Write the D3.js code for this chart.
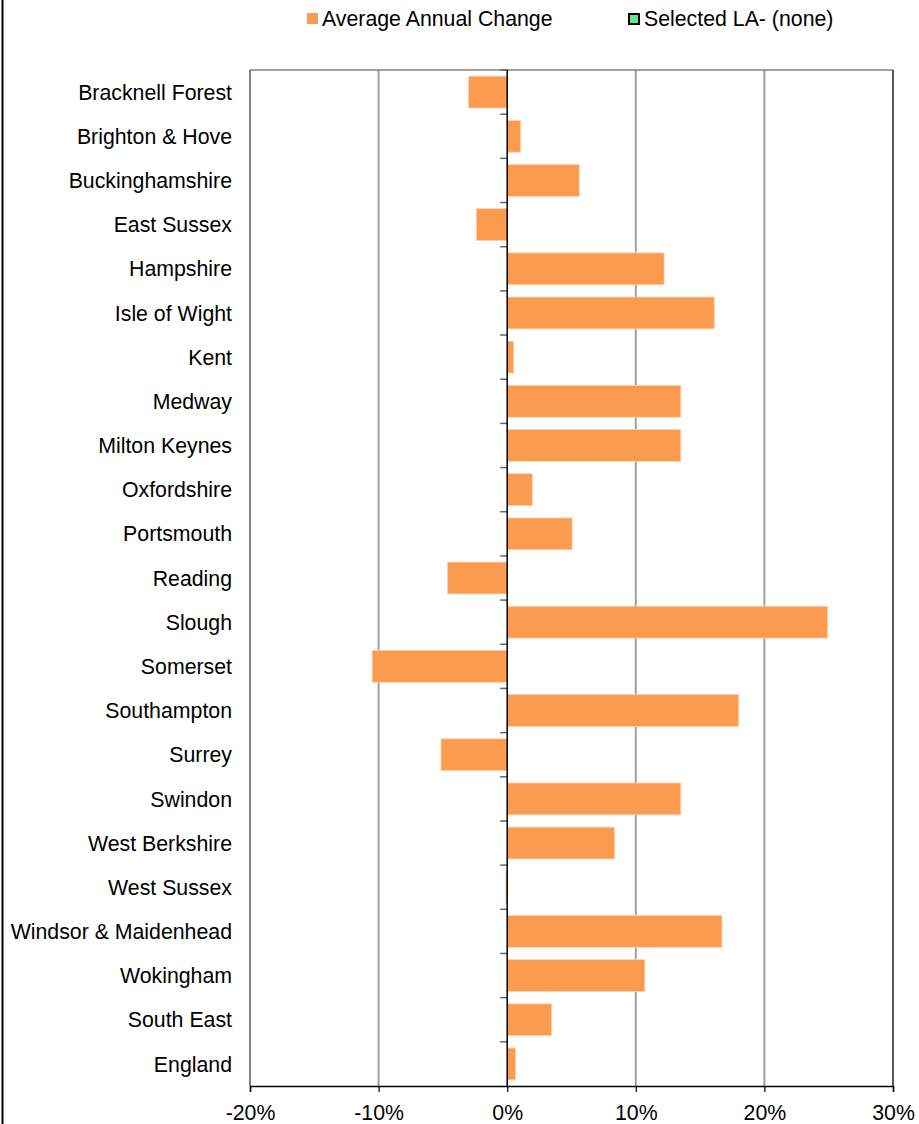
<!DOCTYPE html>
<html>
<head>
<meta charset="utf-8">
<script src="https://cdn.jsdelivr.net/npm/d3@7"></script>
<style>
  body { margin: 0; background: #fff; }
  text { font-family: "Liberation Sans", Arial, sans-serif; fill: #000; }
</style>
</head>
<body>
<svg id="chart" width="919" height="1124"></svg>
<script>
// local authorities, top to bottom
var areas = ['Bracknell Forest', 'Brighton & Hove', 'Buckinghamshire', 'East Sussex',
    'Hampshire', 'Isle of Wight', 'Kent', 'Medway', 'Milton Keynes', 'Oxfordshire',
    'Portsmouth', 'Reading', 'Slough', 'Somerset', 'Southampton', 'Surrey', 'Swindon',
    'West Berkshire', 'West Sussex', 'Windsor & Maidenhead', 'Wokingham', 'South East', 'England'];
// average annual change, %
var annualChange = [-3.0, 1.05, 5.6, -2.4, 12.2, 16.1, 0.5, 13.5, 13.5, 1.95,
    5.05, -4.65, 24.9, -10.5, 18.0, -5.15, 13.5, 8.35, -0.1, 16.7, 10.7, 3.45, 0.65];
var xTicks = [-20, -10, 0, 10, 20, 30];
var legendItems = ['Average Annual Change', 'Selected LA- (none)'];

var svg = d3.select('#chart');
var plotLeft = 250, plotRight = 893, plotTop = 70, plotBottom = 1086;
var fontSize = 21.3;

var x = d3.scaleLinear().domain([-20, 30]).range([plotLeft, plotRight]);
var y = d3.scaleBand().domain(areas).range([plotTop, plotBottom]).paddingInner(0.28).paddingOuter(0.14);

// outer frame edge on the left
svg.append('line')
    .attr('x1', 2.5).attr('x2', 2.5).attr('y1', 0).attr('y2', 1124)
    .attr('stroke', '#000').attr('stroke-width', 2);

// vertical gridlines
svg.append('g').selectAll('line')
    .data(xTicks.filter(function (d) { return d !== 0 && d !== -20 && d !== 30; }))
    .enter().append('line')
    .attr('x1', function (d) { return x(d); })
    .attr('x2', function (d) { return x(d); })
    .attr('y1', plotTop).attr('y2', plotBottom)
    .attr('stroke', '#a0a0a0').attr('stroke-width', 2);

// plot box
svg.append('line').attr('x1', plotLeft).attr('x2', plotRight).attr('y1', plotTop).attr('y2', plotTop)
    .attr('stroke', '#808080').attr('stroke-width', 1.5);
svg.append('line').attr('x1', plotLeft).attr('x2', plotLeft).attr('y1', plotTop).attr('y2', plotBottom)
    .attr('stroke', '#333').attr('stroke-width', 1.2);
svg.append('line').attr('x1', plotRight).attr('x2', plotRight).attr('y1', plotTop).attr('y2', plotBottom)
    .attr('stroke', '#222').attr('stroke-width', 1.5);

// bars
svg.append('g').selectAll('rect')
    .data(annualChange)
    .enter().append('rect')
    .attr('x', function (d) { return Math.min(x(0), x(d)); })
    .attr('y', function (d, i) { return y(areas[i]); })
    .attr('width', function (d) { return Math.abs(x(d) - x(0)); })
    .attr('height', y.bandwidth())
    .attr('fill', '#fa9b50')
    .attr('stroke', '#fdd0ae').attr('stroke-width', 0.8);

// category boundary ticks on the zero line
var boundaries = d3.range(areas.length).map(function (i) {
    return plotTop + i * (plotBottom - plotTop) / areas.length;
});
svg.append('g').selectAll('line')
    .data(boundaries)
    .enter().append('line')
    .attr('x1', x(0) - 7).attr('x2', x(0))
    .attr('y1', function (d) { return d; }).attr('y2', function (d) { return d; })
    .attr('stroke', '#666').attr('stroke-width', 1.5);

// zero axis line
svg.append('line').attr('x1', x(0)).attr('x2', x(0)).attr('y1', plotTop).attr('y2', plotBottom)
    .attr('stroke', '#000').attr('stroke-width', 1.5);

// category labels
svg.append('g').selectAll('text')
    .data(areas)
    .enter().append('text')
    .attr('x', 232)
    .attr('y', function (d) { return y(d) + y.bandwidth() / 2; })
    .attr('dy', '0.36em')
    .attr('text-anchor', 'end')
    .attr('font-size', fontSize)
    .text(function (d) { return d; });

// bottom axis
var xAxis = d3.axisBottom(x).tickValues(xTicks).tickSize(6).tickPadding(13)
    .tickFormat(function (d) { return d + '%'; });
var gx = svg.append('g').attr('transform', 'translate(0,' + plotBottom + ')').call(xAxis);
gx.select('.domain').attr('stroke', '#000').attr('stroke-width', 1.5);
gx.selectAll('.tick line').attr('stroke', '#000').attr('stroke-width', 1.2);
gx.selectAll('.tick text').attr('font-size', fontSize)
    .attr('font-family', '"Liberation Sans", Arial, sans-serif').attr('fill', '#000');

// legend
var legend = svg.append('g');
legend.append('rect').attr('x', 307).attr('y', 13).attr('width', 11).attr('height', 11)
    .attr('fill', '#fa9b50');
legend.append('text').attr('x', 322).attr('y', 25.5).attr('font-size', fontSize).text(legendItems[0]);
legend.append('rect').attr('x', 629).attr('y', 14).attr('width', 10).attr('height', 10)
    .attr('fill', '#66e68c').attr('stroke', '#000').attr('stroke-width', 2);
legend.append('text').attr('x', 644).attr('y', 25.5).attr('font-size', fontSize).text(legendItems[1]);
</script>
</body>
</html>
